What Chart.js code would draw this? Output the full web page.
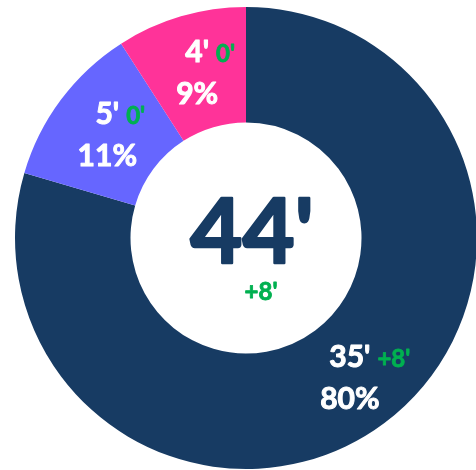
<!DOCTYPE html>
<html>
<head>
<meta charset="utf-8">
<script src="https://cdn.jsdelivr.net/npm/chart.js@4"></script>
<style>
  html, body { margin: 0; padding: 0; background: #fff; overflow: hidden; }
  #wrap { width: 492px; height: 476px; }
</style>
</head>
<body>
<div id="wrap"><canvas id="tiempoChart" width="492" height="476"></canvas></div>
<script>
// minutos por tipo y variación respecto al periodo anterior
const categorias = ['Tipo A', 'Tipo B', 'Tipo C'];
const minutos = [35, 5, 4];
const variacion = [8, 0, 0];
const colores = ['#173B63', '#6666FF', '#FF3399'];

const VERDE = '#00B050';
const AZUL = '#173B63';

const total = minutos.reduce((a, b) => a + b, 0);
const totalVar = variacion.reduce((a, b) => a + b, 0);

function fmtVar(v) {
    return (v > 0 ? '+' : '') + v + "'";
}

// texto en negrita con un trazo extra para engrosarlo un poco
function texto(ctx, s, x, y, color, grosor) {
    ctx.fillStyle = color;
    ctx.strokeStyle = color;
    ctx.lineWidth = grosor;
    ctx.lineJoin = 'round';
    ctx.strokeText(s, x, y);
    ctx.fillText(s, x, y);
}

const etiquetas = {
    id: 'etiquetas',
    afterDraw(chart) {
        const ctx = chart.ctx;
        const arcs = chart.getDatasetMeta(0).data;
        ctx.save();
        ctx.textBaseline = 'alphabetic';
        arcs.forEach((arc, i) => {
            const pt = arc.getCenterPoint();
            const ax = pt.x, ay = pt.y;

            const valor = minutos[i] + "'";
            const pct = Math.round(minutos[i] / total * 100) + '%';

            ctx.font = 'bold 30px Lato';
            ctx.textAlign = 'center';
            texto(ctx, valor, ax, ay - 10, '#fff', 1);
            texto(ctx, pct, ax, ay + 32, '#fff', 1);

            const w = ctx.measureText(valor).width;
            ctx.font = 'bold 24px Lato';
            ctx.textAlign = 'left';
            texto(ctx, fmtVar(variacion[i]), ax + w / 2 + 7, ay - 10, VERDE, 0.8);
        });

        // total en el centro
        const c = arcs[0];
        ctx.textAlign = 'center';
        ctx.font = 'bold 90px Lato';
        texto(ctx, total + "'", c.x + 6, c.y + 25, AZUL, 2.5);
        ctx.font = 'bold 24px Lato';
        texto(ctx, fmtVar(totalVar), c.x + 15, c.y + 62, VERDE, 0.8);
        ctx.restore();
    }
};

new Chart(document.getElementById('tiempoChart').getContext('2d'), {
    type: 'doughnut',
    data: {
        labels: categorias,
        datasets: [{
            data: minutos,
            backgroundColor: colores,
            borderWidth: 0
        }]
    },
    options: {
        responsive: false,
        animation: false,
        cutout: '50%',
        layout: { padding: 7 },
        plugins: {
            legend: { display: false },
            tooltip: { enabled: false }
        }
    },
    plugins: [etiquetas]
});
</script>
</body>
</html>
